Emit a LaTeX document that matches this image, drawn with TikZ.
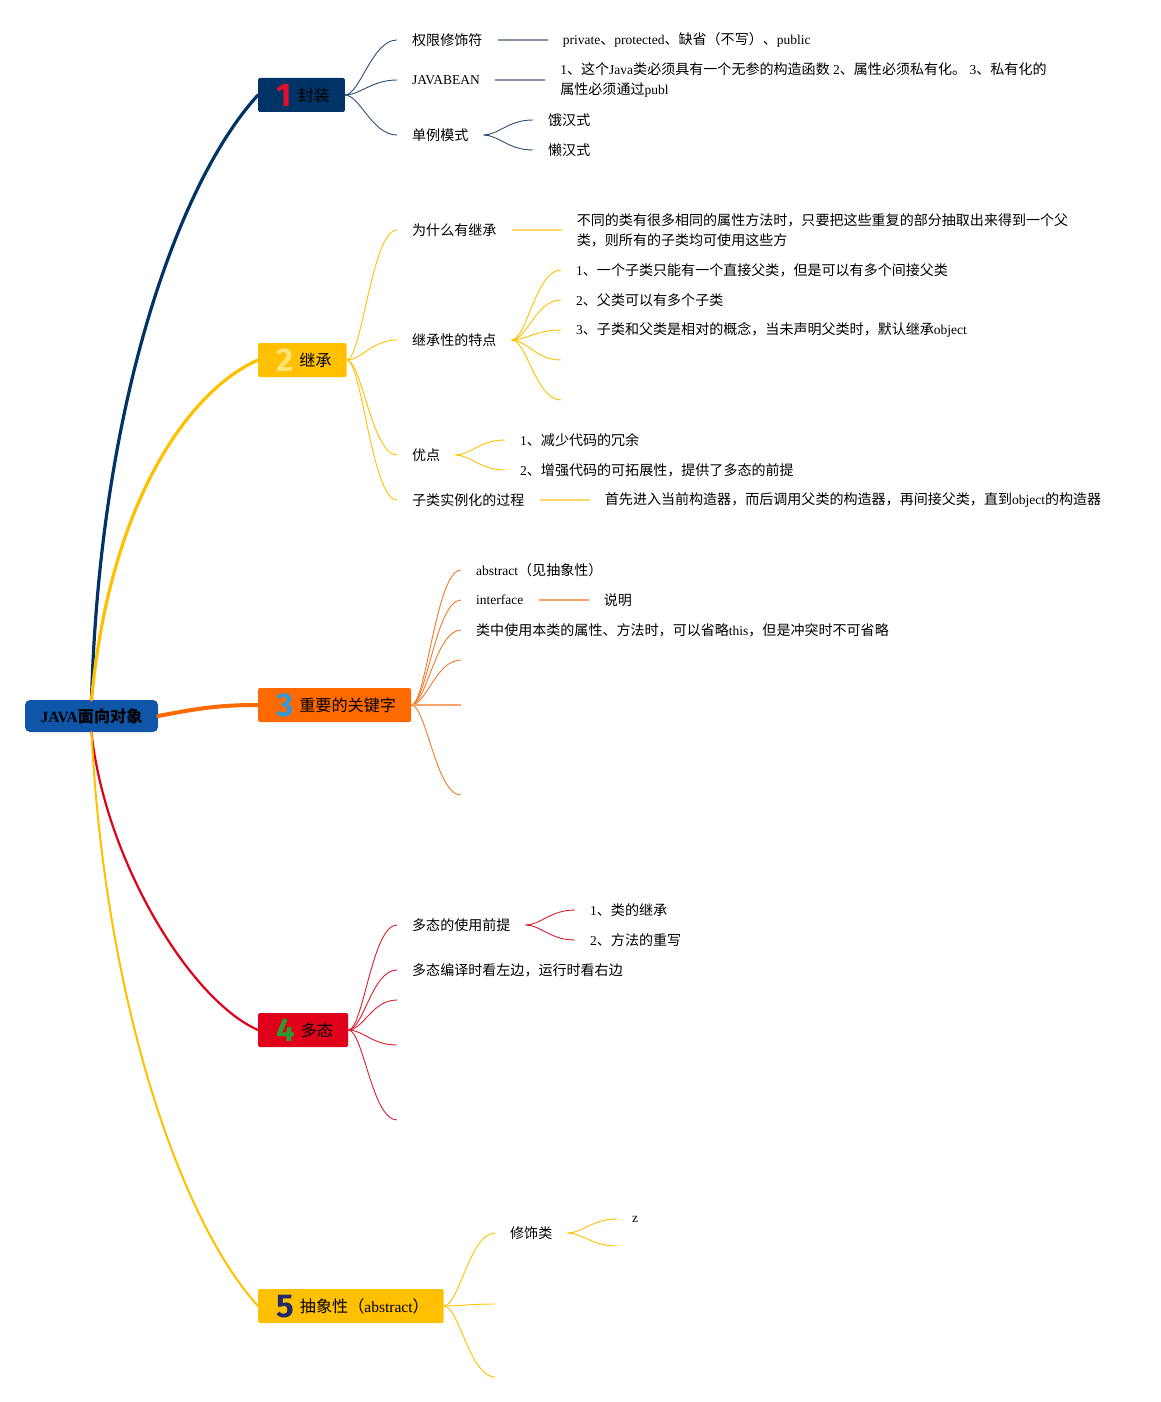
\documentclass[tikz,border=0pt]{standalone}
\usepackage{fontspec}
\setmainfont{Liberation Serif}
\newfontfamily\cjkfont[Scale=1.04]{Noto Sans CJK SC}
\newfontfamily\digitfont{Fira Sans}
\usetikzlibrary{positioning}

% switch to the CJK font for Chinese characters, back to the serif for the rest
\XeTeXinterchartokenstate=1
\newXeTeXintercharclass\cjkclass
\newcount\cjkcode
\newcommand\markcjk[2]{%
  \cjkcode=#1\relax
  \loop
    \XeTeXcharclass\cjkcode=\cjkclass\relax
  \ifnum\cjkcode<#2\relax \advance\cjkcode by 1 \repeat}
\markcjk{"3000}{"303F}
\markcjk{"4E00}{"9FFF}
\markcjk{"FF00}{"FFEF}
\XeTeXinterchartoks 0 \cjkclass = {\cjkfont}
\XeTeXinterchartoks 4095 \cjkclass = {\cjkfont}
\XeTeXinterchartoks \cjkclass 0 = {\rmfamily}
\XeTeXinterchartoks \cjkclass 4095 = {\rmfamily}

\definecolor{rootBlue}{HTML}{0F56A8}
\definecolor{navyBox}{HTML}{003366}
\definecolor{goldBox}{HTML}{FFC000}
\definecolor{orangeBox}{HTML}{FF6A00}
\definecolor{redBox}{HTML}{E00019}
\definecolor{numRed}{HTML}{E0102C}
\definecolor{numCream}{HTML}{FFE375}
\definecolor{numBlue}{HTML}{3399D6}
\definecolor{numGreen}{HTML}{2E992E}
\definecolor{numNavy}{HTML}{1F2A6B}
\definecolor{navyTwig}{HTML}{2B4F78}
\definecolor{navyBar}{HTML}{8393A6}
\definecolor{goldBar}{HTML}{FFD966}
\definecolor{orangeTwig}{HTML}{F07A2A}
\definecolor{orangeBar}{HTML}{F5A56E}
\definecolor{redTwig}{HTML}{D81F2F}

\newcommand\topicnum[2]{\hspace{3pt}\smash{\raisebox{-5pt}{\textcolor{#1}{\digitfont\bfseries\fontsize{33}{33}\selectfont #2}}}\hspace{6pt}}

\begin{document}
\begin{tikzpicture}[x=1pt, y=-1pt,
  hub/.style={fill=rootBlue, rounded corners=5pt, minimum width=133pt,
    minimum height=32pt, inner sep=0pt, font=\bfseries\fontsize{15.5}{18}\selectfont},
  topic/.style={anchor=west, minimum height=34pt, inner xsep=15pt, inner ysep=0pt,
    rounded corners=1.5pt, font=\fontsize{15.5}{20}\selectfont},
  leaf/.style={anchor=west, inner xsep=15pt, inner ysep=2pt, align=left,
    font=\fontsize{13.5}{20}\selectfont},
  twig/.style={line width=0.9pt,
    to path={.. controls +(15pt,0) and +(-25pt,0) .. (\tikztotarget)}},
  bar/.style={line width=1.8pt},
  trunk/.style={line cap=round}]
  \useasboundingbox (0,0) rectangle (1161,1402);

  \node (javaOOP)
        [hub] at (91.5,716)
        {JAVA面向对象};
  \node (encap)
        [topic, fill=navyBox] at (258,95)
        {\topicnum{numRed}{1}封装};
  \node (inherit)
        [topic, fill=goldBox] at (258,360)
        {\topicnum{numCream}{2}继承};
  \node (keywords)
        [topic, fill=orangeBox] at (258,705)
        {\topicnum{numBlue}{3}重要的关键字};
  \node (poly)
        [topic, fill=redBox] at (258,1030)
        {\topicnum{numGreen}{4}多态};
  \node (abstr)
        [topic, fill=goldBox] at (258,1306)
        {\topicnum{numNavy}{5}抽象性（abstract）};

  \draw[trunk, navyBox, line width=3.2pt] (javaOOP.north) .. controls (100,400) and (180,180) .. (encap.west);
  \draw[trunk, goldBox, line width=3.2pt] (javaOOP.north) .. controls (110,500) and (190,390) .. (inherit.west);
  \draw[trunk, orangeBox, line width=4pt] (javaOOP.east) .. controls (200,708) and (220,705) .. (keywords.west);
  \draw[trunk, redBox, line width=2.2pt] (javaOOP.south) .. controls (105,860) and (190,1000) .. (poly.west);
  \draw[trunk, goldBox, line width=2pt] (javaOOP.south) .. controls (105,1000) and (180,1220) .. (abstr.west);

  % 1 encapsulation
  \node (accessMod)
        [leaf] at (397,40)
        {权限修饰符};
  \node (accessModDesc)
        [leaf, right=50pt of accessMod]
        {private、protected、缺省（不写）、public};
  \node (javaBean)
        [leaf] at (397,80)
        {JAVABEAN};
  \node (javaBeanDesc)
        [leaf, right=50pt of javaBean]
        {1、这个Java类必须具有一个无参的构造函数 2、属性必须私有化。 3、私有化的\\属性必须通过publ};
  \node (singleton)
        [leaf] at (397,135)
        {单例模式};
  \node (eager)
        [leaf] at (533,120)
        {饿汉式};
  \node (lazy)
        [leaf] at (533,150)
        {懒汉式};

  \draw[twig, navyTwig] (encap.east) to (accessMod.west);
  \draw[twig, navyTwig] (encap.east) to (javaBean.west);
  \draw[twig, navyTwig] (encap.east) to (singleton.west);
  \draw[bar, navyBar] (accessMod.east) -- (accessMod.east -| accessModDesc.west);
  \draw[bar, navyBar] (javaBean.east) -- (javaBean.east -| javaBeanDesc.west);
  \draw[twig, navyTwig] (singleton.east) to (eager.west);
  \draw[twig, navyTwig] (singleton.east) to (lazy.west);

  % 2 inheritance
  \node (whyInherit)
        [leaf] at (397,230)
        {为什么有继承};
  \node (whyInheritDesc)
        [leaf, right=50pt of whyInherit]
        {不同的类有很多相同的属性方法时，只要把这些重复的部分抽取出来得到一个父\\类，则所有的子类均可使用这些方};
  \node (features)
        [leaf] at (397,340)
        {继承性的特点};
  \node (featureOne)
        [leaf] at (561,270)
        {1、一个子类只能有一个直接父类，但是可以有多个间接父类};
  \node (featureTwo)
        [leaf] at (561,300)
        {2、父类可以有多个子类};
  \node (featureThree)
        [leaf] at (561,330)
        {3、子类和父类是相对的概念，当未声明父类时，默认继承object};
  \coordinate (featureFour) at (561,360);
  \coordinate (featureFive) at (561,400);
  \node (merits)
        [leaf] at (397,455)
        {优点};
  \node (meritOne)
        [leaf] at (505,440)
        {1、减少代码的冗余};
  \node (meritTwo)
        [leaf] at (505,470)
        {2、增强代码的可拓展性，提供了多态的前提};
  \node (subInit)
        [leaf] at (397,500)
        {子类实例化的过程};
  \node (subInitDesc)
        [leaf, right=50pt of subInit]
        {首先进入当前构造器，而后调用父类的构造器，再间接父类，直到object的构造器};

  \draw[twig, goldBox] (inherit.east) to (whyInherit.west);
  \draw[twig, goldBox] (inherit.east) to (features.west);
  \draw[twig, goldBox] (inherit.east) to (merits.west);
  \draw[twig, goldBox] (inherit.east) to (subInit.west);
  \draw[bar, goldBar] (whyInherit.east) -- (whyInherit.east -| whyInheritDesc.west);
  \draw[twig, goldBox] (features.east) to (featureOne.west);
  \draw[twig, goldBox] (features.east) to (featureTwo.west);
  \draw[twig, goldBox] (features.east) to (featureThree.west);
  \draw[twig, goldBox] (features.east) to (featureFour);
  \draw[twig, goldBox] (features.east) to (featureFive);
  \draw[twig, goldBox] (merits.east) to (meritOne.west);
  \draw[twig, goldBox] (merits.east) to (meritTwo.west);
  \draw[bar, goldBar] (subInit.east) -- (subInit.east -| subInitDesc.west);

  % 3 keywords
  \node (kwAbstract)
        [leaf] at (461,570)
        {abstract（见抽象性）};
  \node (kwInterface)
        [leaf] at (461,600)
        {interface};
  \node (kwInterfaceDesc)
        [leaf, right=50pt of kwInterface]
        {说明};
  \node (kwThis)
        [leaf] at (461,630)
        {类中使用本类的属性、方法时，可以省略this，但是冲突时不可省略};
  \coordinate (kwFour) at (461,660);
  \coordinate (kwFive) at (461,705);
  \coordinate (kwSix) at (461,795);

  \draw[twig, orangeTwig] (keywords.east) to (kwAbstract.west);
  \draw[twig, orangeTwig] (keywords.east) to (kwInterface.west);
  \draw[twig, orangeTwig] (keywords.east) to (kwThis.west);
  \draw[twig, orangeTwig] (keywords.east) to (kwFour);
  \draw[orangeBar, line width=1.2pt] (keywords.east) -- (kwFive);
  \draw[twig, orangeTwig] (keywords.east) to (kwSix);
  \draw[bar, orangeBar] (kwInterface.east) -- (kwInterface.east -| kwInterfaceDesc.west);

  % 4 polymorphism
  \node (polyPremise)
        [leaf] at (397,925)
        {多态的使用前提};
  \node (premiseOne)
        [leaf] at (575,910)
        {1、类的继承};
  \node (premiseTwo)
        [leaf] at (575,940)
        {2、方法的重写};
  \node (polyBinding)
        [leaf] at (397,970)
        {多态编译时看左边，运行时看右边};
  \coordinate (polyThree) at (397,1000);
  \coordinate (polyFour) at (397,1045);
  \coordinate (polyFive) at (397,1120);

  \draw[twig, redTwig] (poly.east) to (polyPremise.west);
  \draw[twig, redTwig] (poly.east) to (polyBinding.west);
  \draw[twig, redTwig] (poly.east) to (polyThree);
  \draw[twig, redTwig] (poly.east) to (polyFour);
  \draw[twig, redTwig] (poly.east) to (polyFive);
  \draw[twig, redTwig] (polyPremise.east) to (premiseOne.west);
  \draw[twig, redTwig] (polyPremise.east) to (premiseTwo.west);

  % 5 abstraction
  \node (modClass)
        [leaf] at (495,1233)
        {修饰类};
  \node (modClassZ)
        [leaf] at (617,1219)
        {z};
  \coordinate (modClassEnd) at (617,1246);
  \coordinate (abstrTwo) at (495,1304);
  \coordinate (abstrThree) at (495,1377);

  \draw[twig, goldBox] (abstr.east) to (modClass.west);
  \draw[twig, goldBox] (abstr.east) to (abstrTwo);
  \draw[twig, goldBox] (abstr.east) to (abstrThree);
  \draw[twig, goldBox] (modClass.east) to (modClassZ.west);
  \draw[twig, goldBox] (modClass.east) to (modClassEnd);
\end{tikzpicture}
\end{document}
